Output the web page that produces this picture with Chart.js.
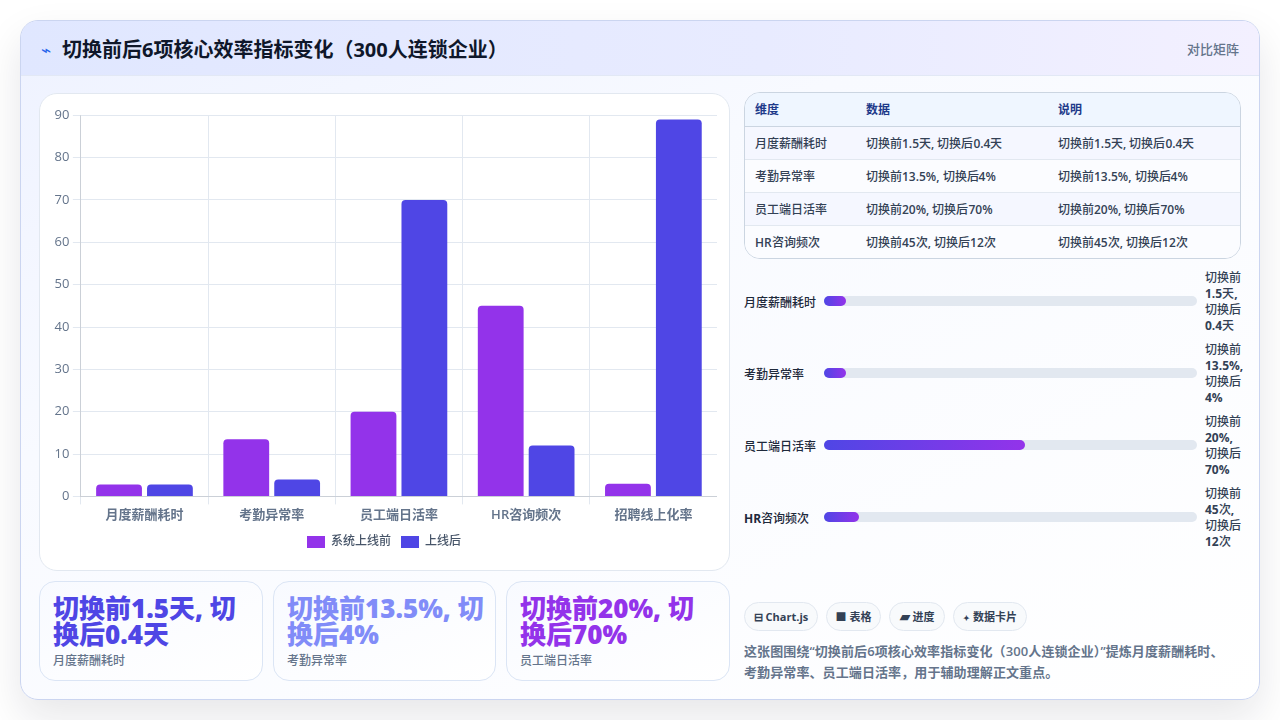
<!DOCTYPE html>
<html lang="zh-CN">
<head>
<meta charset="utf-8">
<title>切换前后6项核心效率指标变化</title>
<script src="https://cdn.jsdelivr.net/npm/chart.js@4/dist/chart.umd.min.js"></script>
<style>
    /* semibold latin next to medium CJK for the small body text */
    @font-face {
        font-family: "Body CJK";
        src: local("Noto Sans CJK SC Medium"), local("NotoSansCJKsc-Medium"), local("Noto Sans CJK SC");
        font-weight: 100 800;
    }
    * { box-sizing: border-box; margin: 0; padding: 0; }
    html, body { width: 1280px; height: 720px; overflow: hidden; background: #fff; }
    body { font-family: "Open Sans", "Noto Sans CJK SC", sans-serif; color: #334155; position: relative; }
    .card {
        position: absolute; left: 20px; top: 20px; width: 1240px; height: 680px;
        border: 1px solid #cbd5f0; border-radius: 18px; overflow: hidden;
        background: linear-gradient(155deg, #eef2ff 0%, #f8faff 35%, #ffffff 100%);
    }
    .shadow {
        position: absolute; left: 20px; top: 20px; width: 1240px; height: 680px;
        border-radius: 18px; box-shadow: 0 18px 40px rgba(15, 23, 42, 0.10);
    }
    .head {
        position: absolute; left: 0; top: 0; width: 100%; height: 55px;
        background: linear-gradient(90deg, #e0e7ff 0%, #e8ebff 60%, #f3f0ff 100%);
        border-bottom: 1px solid #e2e8f5;
    }
    .head .ico { position: absolute; left: 20px; top: 19px; font-size: 17px; line-height: 20px; color: #2563eb; }
    .head h1 { position: absolute; left: 41px; top: 14px; font-size: 20px; line-height: 30px; font-weight: 700; color: #0f172a; white-space: nowrap; }
    .head .tag { position: absolute; right: 20px; top: 18px; font-size: 13px; line-height: 20px; font-weight: 500; color: #64748b; }
    .panel {
        position: absolute; left: 18px; top: 72px; width: 691px; height: 478px;
        background: #fff; border: 1px solid #e2e8f0; border-radius: 18px;
    }
    #chart-wrap { position: absolute; left: 11px; top: 10px; width: 666px; height: 454px; }
    .kpi {
        position: absolute; top: 560px; height: 100px; padding: 13px 0 0 13px;
        background: linear-gradient(160deg, #f8faff, #ffffff);
        border: 1px solid #dbe5f5; border-radius: 16px;
    }
    .kpi b { display: block; width: 198px; font-size: 26px; line-height: 26px; font-weight: 900; }
    .kpi span { display: block; margin-top: 5px; font-size: 12px; line-height: 18px; font-weight: 500; color: #64748b; }
    .tbl {
        position: absolute; left: 723px; top: 71px; width: 497px; height: 167px;
        border: 1px solid #cbd5e1; border-radius: 16px; overflow: hidden;
    }
    .tbl table { width: 100%; border-collapse: collapse; table-layout: fixed; font-size: 12px; }
    .tbl th, .tbl td { height: 33px; padding: 0 0 0 10px; text-align: left; white-space: nowrap; }
    .tbl th { color: #1e3a8a; font-weight: 700; background: #eff6ff; border-bottom: 1px solid #cbd5e1; }
    .tbl td { font-family: "Open Sans", "Body CJK", sans-serif; color: #334155; font-weight: 600; border-bottom: 1px solid #e2e8f0; }
    .tbl tr:last-child td { border-bottom: 0; }
    .tbl tbody tr:nth-child(odd) { background: #f5f7ff; }
    .tbl tbody tr:nth-child(even) { background: #fbfcff; }
    .prog { position: absolute; left: 723px; width: 500px; height: 72px; font-family: "Open Sans", "Body CJK", sans-serif; }
    .prog .lb { position: absolute; left: 0; top: 27px; font-size: 12px; line-height: 20px; font-weight: 700; color: #1e293b; white-space: nowrap; }
    .prog .track { position: absolute; left: 80px; top: 30px; width: 373px; height: 10px; border-radius: 5px; background: #e2e8f0; }
    .prog .fill { height: 100%; border-radius: 5px; background: linear-gradient(90deg, #4f46e5, #9333ea); }
    .prog .val { position: absolute; left: 461px; top: 4px; width: 38px; font-size: 12px; line-height: 16px; font-weight: 700; color: #334155; }
    .chip {
        position: absolute; top: 581px; height: 29px; border: 1px solid #e2e8f0; border-radius: 15px;
        background: #f8fafc; font-size: 11px; line-height: 27px; font-weight: 700; color: #334155;
        text-align: center; white-space: nowrap;
    }
    .note { position: absolute; left: 723px; top: 620px; width: 485px; font-size: 13px; line-height: 21px; font-weight: 600; letter-spacing: 0.1px; color: #64748b; }
</style>
</head>
<body>
<div class="shadow"></div>
<div class="card">
    <div class="head">
        <span class="ico">⌁</span>
        <h1 id="title"></h1>
        <span class="tag">对比矩阵</span>
    </div>
    <div class="panel"><div id="chart-wrap"><canvas id="compare-chart"></canvas></div></div>
    <div id="kpi-row"></div>
    <div class="tbl"><table><thead><tr id="tbl-head"></tr></thead><tbody id="tbl-body"></tbody></table></div>
    <div id="prog-list"></div>
    <div id="chip-row"></div>
    <p class="note" id="note"></p>
</div>
<script>
var titleText = '切换前后6项核心效率指标变化（300人连锁企业）';
var categories = ['月度薪酬耗时', '考勤异常率', '员工端日活率', 'HR咨询频次', '招聘线上化率'];
var seriesNames = ['系统上线前', '上线后'];
var beforeValues = [1.5, 13.5, 20, 45, 3];
var afterValues = [0.4, 4, 70, 12, 89];
var yTicks = [0, 10, 20, 30, 40, 50, 60, 70, 80, 90];

var tableHead = ['维度', '数据', '说明'];
var summaries = ['切换前1.5天, 切换后0.4天', '切换前13.5%, 切换后4%', '切换前20%, 切换后70%', '切换前45次, 切换后12次'];
var progressPercents = [6, 6, 54, 9.4];

var kpiColors = ['#4f46e5', '#818cf8', '#9333ea'];
var kpiLefts = [18, 252, 485];
var kpiWidths = [224, 223, 224];

var chipIcons = ['⊟', '■', '▰', '✦'];
var chipIconSizes = [11, 11, 13, 8];
var chipTexts = ['Chart.js', '表格', '进度', '数据卡片'];
var chipLefts = [723, 805, 868, 932];
var chipWidths = [74, 55, 56, 74];
var noteText = '这张图围绕“切换前后6项核心效率指标变化（300人连锁企业）”提炼月度薪酬耗时、考勤异常率、员工端日活率，用于辅助理解正文重点。';

function renderText() {
    document.getElementById('title').textContent = titleText;
    document.getElementById('note').textContent = noteText;
}

function renderKpis() {
    var html = '';
    kpiColors.forEach(function (c, i) {
        html += '<div class="kpi" style="left:' + kpiLefts[i] + 'px;width:' + kpiWidths[i] + 'px">' +
            '<b style="color:' + c + '">' + summaries[i] + '</b>' +
            '<span>' + categories[i] + '</span></div>';
    });
    document.getElementById('kpi-row').innerHTML = html;
}

function renderTable() {
    var widths = [111, 192, 194];
    document.getElementById('tbl-head').innerHTML = tableHead.map(function (t, i) {
        return '<th style="width:' + widths[i] + 'px">' + t + '</th>';
    }).join('');
    var html = '';
    summaries.forEach(function (s, i) {
        html += '<tr><td>' + categories[i] + '</td><td>' + s + '</td><td>' + s + '</td></tr>';
    });
    document.getElementById('tbl-body').innerHTML = html;
}

function renderProgress() {
    var html = '';
    summaries.forEach(function (s, i) {
        html += '<div class="prog" style="top:' + (245 + i * 72) + 'px">' +
            '<span class="lb">' + categories[i] + '</span>' +
            '<div class="track"><div class="fill" style="width:' + progressPercents[i] + '%"></div></div>' +
            '<div class="val">' + s + '</div></div>';
    });
    document.getElementById('prog-list').innerHTML = html;
}

function renderChips() {
    var html = '';
    chipTexts.forEach(function (t, i) {
        html += '<span class="chip" style="left:' + chipLefts[i] + 'px;width:' + chipWidths[i] + 'px">' +
            '<span style="font-size:' + chipIconSizes[i] + 'px">' + chipIcons[i] + '</span> ' + t + '</span>';
    });
    document.getElementById('chip-row').innerHTML = html;
}

function renderChart() {
    var ctx = document.getElementById('compare-chart').getContext('2d');
    Chart.defaults.font.family = '"Open Sans", "Noto Sans CJK SC", sans-serif';
    new Chart(ctx, {
        type: 'bar',
        data: {
            labels: categories,
            datasets: [
                { label: seriesNames[0], data: beforeValues, backgroundColor: '#9333ea', borderRadius: 4, minBarLength: 12 },
                { label: seriesNames[1], data: afterValues, backgroundColor: '#4f46e5', borderRadius: 4, minBarLength: 12 }
            ]
        },
        options: {
            responsive: true,
            maintainAspectRatio: false,
            animation: false,
            plugins: {
                legend: {
                    position: 'bottom',
                    labels: { boxWidth: 18, boxHeight: 12, color: '#475569', font: { size: 12, weight: '500' } }
                },
                tooltip: { enabled: false }
            },
            scales: {
                x: {
                    grid: { color: '#e2e8f0' },
                    ticks: { color: '#64748b', font: { size: 13, weight: '600' } }
                },
                y: {
                    min: 0,
                    max: 90,
                    grid: { color: '#e2e8f0' },
                    afterBuildTicks: function (axis) {
                        axis.ticks = yTicks.map(function (v) { return { value: v }; });
                    },
                    ticks: { color: '#64748b', padding: 3.5, font: { size: 13 } }
                }
            }
        }
    });
}

renderText();
renderKpis();
renderTable();
renderProgress();
renderChips();
renderChart();
</script>
</body>
</html>
